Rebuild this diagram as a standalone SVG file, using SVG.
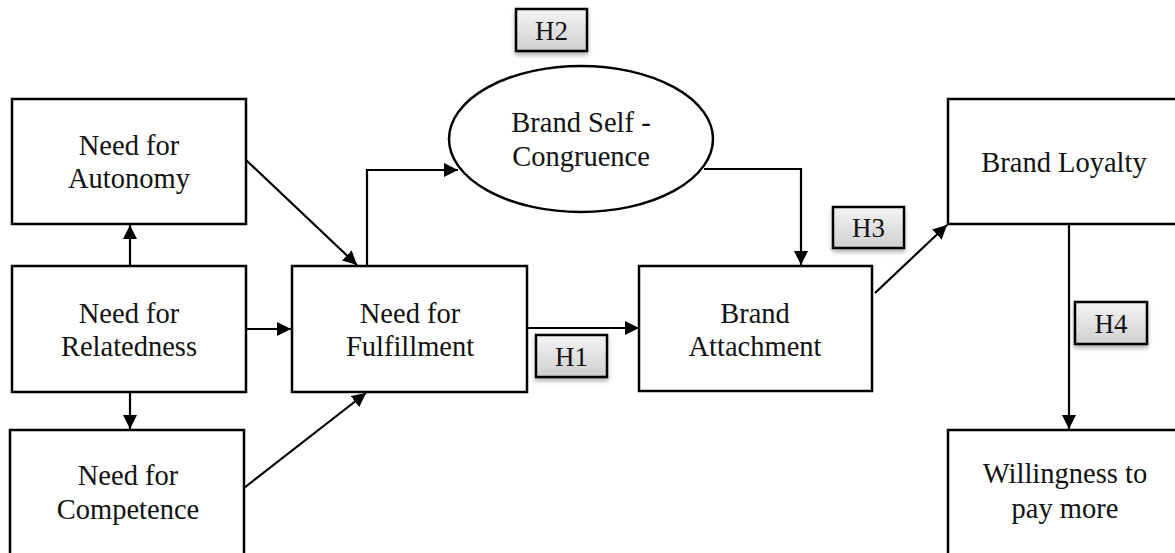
<svg xmlns="http://www.w3.org/2000/svg" width="1175" height="553" viewBox="0 0 1175 553">
<style>
.box{fill:#fff;stroke:#000;stroke-width:2.5}
.t{font-family:"Liberation Serif","Times New Roman",serif;font-size:28.5px;fill:#111;text-anchor:middle}
.ht{font-family:"Liberation Serif","Times New Roman",serif;font-size:27px;fill:#111;text-anchor:middle}
.c{fill:none;stroke:#000;stroke-width:2.2}
.h{fill:url(#hg);stroke:#000;stroke-width:2.5;filter:url(#sh)}
</style>
<defs>
<marker id="ah" viewBox="0 0 14 14" refX="14" refY="7" markerWidth="14" markerHeight="14" markerUnits="userSpaceOnUse" orient="auto">
<path d="M0,0 L14,7 L0,14 Z" fill="#000"/>
</marker>
<linearGradient id="hg" x1="0" y1="0" x2="0" y2="1">
<stop offset="0" stop-color="#f4f4f4"/>
<stop offset="1" stop-color="#cfcfcf"/>
</linearGradient>
<filter id="sh" x="-20%" y="-20%" width="150%" height="160%">
<feDropShadow dx="0" dy="3" stdDeviation="2" flood-color="#000" flood-opacity="0.3"/>
</filter>
</defs>
<g id="connectors">
<line class="c" x1="130" y1="266" x2="130" y2="225" marker-end="url(#ah)"/>
<line class="c" x1="130" y1="392" x2="130" y2="429" marker-end="url(#ah)"/>
<line class="c" x1="246" y1="329" x2="291" y2="329" marker-end="url(#ah)"/>
<line class="c" x1="246" y1="160" x2="357" y2="265" marker-end="url(#ah)"/>
<line class="c" x1="244" y1="488" x2="366" y2="393" marker-end="url(#ah)"/>
<polyline class="c" points="367,266 367,170 458,170" marker-end="url(#ah)"/>
<line class="c" x1="527" y1="328" x2="639" y2="328" marker-end="url(#ah)"/>
<polyline class="c" points="704,169 801,169 801,265" marker-end="url(#ah)"/>
<line class="c" x1="875" y1="293" x2="947" y2="225" marker-end="url(#ah)"/>
<line class="c" x1="1069" y1="224" x2="1069" y2="429" marker-end="url(#ah)"/>
</g>
<g id="autonomy"><rect class="box" x="12" y="99" width="234" height="125"/><text class="t" x="129" y="155">Need for</text><text class="t" x="129" y="188">Autonomy</text></g>
<g id="relatedness"><rect class="box" x="12" y="266" width="234" height="126"/><text class="t" x="129" y="323">Need for</text><text class="t" x="129" y="356">Relatedness</text></g>
<g id="competence"><rect class="box" x="10" y="430" width="234" height="130"/><text class="t" x="128" y="485">Need for</text><text class="t" x="128" y="519">Competence</text></g>
<g id="fulfillment"><rect class="box" x="292" y="266" width="235" height="126"/><text class="t" x="410" y="323">Need for</text><text class="t" x="410" y="356">Fulfillment</text></g>
<g id="congruence"><ellipse class="box" cx="581" cy="139" rx="132" ry="73"/><text class="t" x="581" y="132">Brand Self -</text><text class="t" x="581" y="166">Congruence</text></g>
<g id="attachment"><rect class="box" x="639" y="266" width="233" height="125"/><text class="t" x="755" y="323">Brand</text><text class="t" x="755" y="356">Attachment</text></g>
<g id="loyalty"><rect class="box" x="948" y="99" width="240" height="125"/><text class="t" x="1064" y="172">Brand Loyalty</text></g>
<g id="willingness"><rect class="box" x="948" y="430" width="240" height="130"/><text class="t" x="1065" y="483">Willingness to</text><text class="t" x="1065" y="518">pay more</text></g>
<g id="h2"><rect class="h" x="516" y="9" width="71" height="42"/><text class="ht" x="551.5" y="40">H2</text></g>
<g id="h1"><rect class="h" x="536" y="335" width="71" height="42"/><text class="ht" x="571.5" y="366">H1</text></g>
<g id="h3"><rect class="h" x="833" y="207" width="71" height="41"/><text class="ht" x="868.5" y="237">H3</text></g>
<g id="h4"><rect class="h" x="1075" y="302" width="72" height="42"/><text class="ht" x="1111" y="333">H4</text></g>
</svg>
